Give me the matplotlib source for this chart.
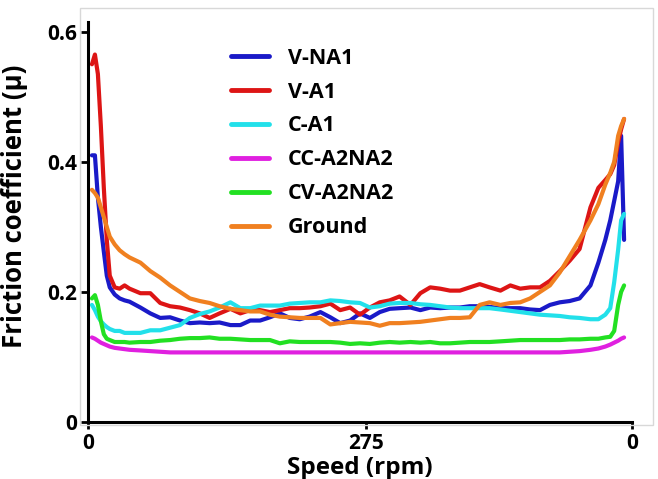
import numpy as np
import matplotlib
matplotlib.use("Agg")
import matplotlib.pyplot as plt
from matplotlib.patches import Rectangle

plt.rcParams['font.family'] = ['Open Sans', 'DejaVu Sans']

speed = [4, 7, 10, 13, 16, 19, 22, 27, 32, 37, 42, 53, 63, 73, 83, 93, 103, 113, 123, 133,
         144, 154, 164, 174, 184, 194, 204, 214, 224, 235, 245, 255, 265, 275, 285, 295,
         305, 315, 326, 336, 346, 356, 366, 376, 386, 396, 406, 417, 427, 437, 447, 457,
         467, 477, 487, 497, 508, 516, 523, 528, 532, 536, 539, 542]

v_na1 = [0.41, 0.41, 0.345, 0.30, 0.262, 0.225, 0.207, 0.196, 0.19, 0.187, 0.185, 0.176,
         0.167, 0.16, 0.161, 0.156, 0.152, 0.153, 0.152, 0.153, 0.149, 0.149, 0.156, 0.156,
         0.161, 0.167, 0.16, 0.158, 0.162, 0.169, 0.161, 0.152, 0.156, 0.167, 0.16, 0.169,
         0.174, 0.175, 0.176, 0.172, 0.176, 0.175, 0.176, 0.176, 0.178, 0.178, 0.177, 0.175,
         0.175, 0.175, 0.173, 0.172, 0.18, 0.184, 0.186, 0.19, 0.21, 0.245, 0.28, 0.31,
         0.34, 0.37, 0.44, 0.28]

v_a1 = [0.55, 0.565, 0.535, 0.455, 0.36, 0.28, 0.225, 0.207, 0.205, 0.21, 0.205, 0.198,
        0.198, 0.183, 0.178, 0.176, 0.172, 0.167, 0.16, 0.167, 0.174, 0.167, 0.172, 0.172,
        0.169, 0.172, 0.175, 0.175, 0.176, 0.178, 0.182, 0.172, 0.176, 0.165, 0.176, 0.184,
        0.187, 0.193, 0.18, 0.198, 0.207, 0.205, 0.202, 0.202, 0.207, 0.212, 0.207, 0.202,
        0.21, 0.205, 0.207, 0.207, 0.217, 0.232, 0.248, 0.266, 0.33, 0.36, 0.372, 0.381,
        0.395, 0.43, 0.45, 0.466]

c_a1 = [0.18, 0.172, 0.162, 0.155, 0.15, 0.146, 0.143, 0.14, 0.14, 0.137, 0.137, 0.137,
        0.141, 0.141, 0.145, 0.149, 0.16, 0.166, 0.17, 0.176, 0.184, 0.175, 0.175, 0.179,
        0.179, 0.179, 0.182, 0.183, 0.184, 0.184, 0.187, 0.186, 0.184, 0.183, 0.176, 0.178,
        0.182, 0.183, 0.183, 0.181, 0.18, 0.178, 0.176, 0.175, 0.175, 0.175, 0.175, 0.173,
        0.171, 0.169, 0.167, 0.165, 0.164, 0.163, 0.161, 0.16, 0.158, 0.158, 0.165, 0.175,
        0.215, 0.265, 0.31, 0.32]

cc_a2na2 = [0.13, 0.128, 0.125, 0.122, 0.12, 0.118, 0.116, 0.114, 0.113, 0.112, 0.111, 0.11,
            0.109, 0.108, 0.107, 0.107, 0.107, 0.107, 0.107, 0.107, 0.107, 0.107, 0.107, 0.107,
            0.107, 0.107, 0.107, 0.107, 0.107, 0.107, 0.107, 0.107, 0.107, 0.107, 0.107, 0.107,
            0.107, 0.107, 0.107, 0.107, 0.107, 0.107, 0.107, 0.107, 0.107, 0.107, 0.107, 0.107,
            0.107, 0.107, 0.107, 0.107, 0.107, 0.107, 0.108, 0.109, 0.111, 0.113, 0.116, 0.119,
            0.122, 0.125, 0.128, 0.13]

cv_a2na2 = [0.19, 0.195, 0.18, 0.155, 0.135, 0.128, 0.126, 0.123, 0.123, 0.123, 0.122, 0.123,
            0.123, 0.125, 0.126, 0.128, 0.129, 0.129, 0.13, 0.128, 0.128, 0.127, 0.126, 0.126,
            0.126, 0.121, 0.124, 0.123, 0.123, 0.123, 0.123, 0.122, 0.12, 0.121, 0.12, 0.122,
            0.123, 0.122, 0.123, 0.122, 0.123, 0.121, 0.121, 0.122, 0.123, 0.123, 0.123, 0.124,
            0.125, 0.126, 0.126, 0.126, 0.126, 0.126, 0.127, 0.127, 0.128, 0.128, 0.13, 0.131,
            0.14, 0.18, 0.2, 0.21]

ground = [0.357, 0.352, 0.345, 0.33, 0.315, 0.30, 0.285, 0.273, 0.264, 0.258, 0.253, 0.245,
          0.232, 0.222, 0.21, 0.2, 0.19, 0.186, 0.183, 0.178, 0.174, 0.172, 0.17, 0.17,
          0.165, 0.162, 0.161, 0.16, 0.16, 0.16, 0.15, 0.152, 0.154, 0.153, 0.152, 0.148,
          0.152, 0.152, 0.153, 0.154, 0.156, 0.158, 0.16, 0.16, 0.161, 0.18, 0.184, 0.18,
          0.183, 0.184, 0.19, 0.2, 0.21, 0.23, 0.255, 0.28, 0.31, 0.335, 0.365, 0.383,
          0.40, 0.44, 0.455, 0.466]

series = [("V-NA1", v_na1, "#1a1ac8"),
          ("V-A1", v_a1, "#dd1515"),
          ("C-A1", c_a1, "#22e0ea"),
          ("CC-A2NA2", cc_a2na2, "#e020e0"),
          ("CV-A2NA2", cv_a2na2, "#22e022"),
          ("Ground", ground, "#f08020")]

xtick_pos = [0, 281, 550]
xtick_labels = ["0", "275", "0"]
ytick_pos = [0, 0.2, 0.4, 0.6]
ytick_labels = ["0", "0.2", "0.4", "0.6"]

fig = plt.figure(figsize=(6.58, 4.79), dpi=100)
fig.patches.append(Rectangle((80 / 658, 1 - 425 / 479), 573 / 658, 417 / 479,
                             transform=fig.transFigure, fill=False,
                             edgecolor="#d8d8d8", lw=1.0, zorder=0))
ax = fig.add_axes([88 / 658, 57 / 479, 544 / 658, 400 / 479])
ax.patch.set_alpha(0)

for name, vals, col in series:
    ax.plot(speed, vals, color=col, lw=3.0, label=name, solid_capstyle="round",
            solid_joinstyle="round")

ax.set_xlim(0, 550)
ax.set_ylim(0, 0.615)
for s in ["top", "right"]:
    ax.spines[s].set_visible(False)
for s in ["left", "bottom"]:
    ax.spines[s].set_linewidth(2.2)
    ax.spines[s].set_color("black")

ax.set_xticks(xtick_pos)
ax.set_xticklabels(xtick_labels)
ax.set_yticks(ytick_pos)
ax.set_yticklabels(ytick_labels)
ax.tick_params(axis="both", direction="out", length=5, width=2, color="black",
               labelsize=15, pad=3)
for lab in ax.get_xticklabels() + ax.get_yticklabels():
    lab.set_fontweight("bold")

ax.set_xlabel("Speed (rpm)", fontsize=17.5, fontweight="bold", labelpad=1)
ax.set_ylabel("Friction coefficient (μ)", fontsize=18.5, fontweight="bold")
ax.yaxis.set_label_coords(-0.11, 0.54)

leg = ax.legend(loc="upper left", bbox_to_anchor=(222 / 658, 1 - 39 / 479),
                bbox_transform=fig.transFigure, frameon=False,
                prop={"weight": "bold", "size": 15.5}, handlelength=1.8,
                handletextpad=0.85, labelspacing=0.6, borderaxespad=0)
for line in leg.get_lines():
    line.set_linewidth(3.5)

fig.savefig("out.png", dpi=100)
